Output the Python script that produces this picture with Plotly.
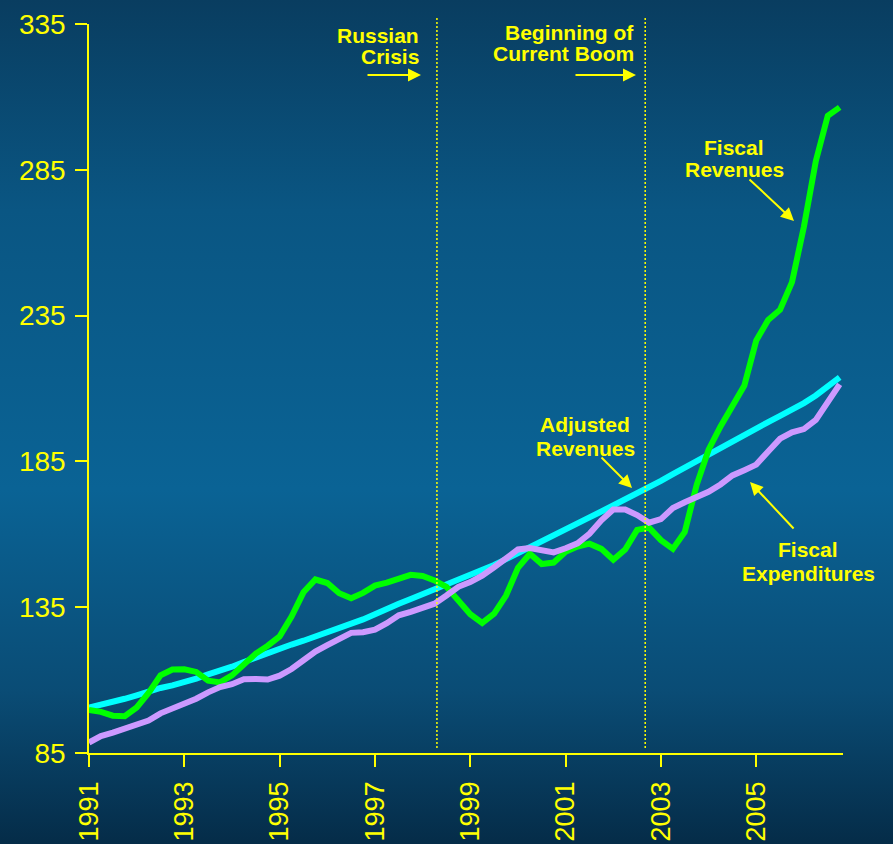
import base64
import plotly.graph_objects as go

# quarterly observations, 1991Q1 - 2006Q4
quarters = [1991 + q / 4 for q in range(64)]

adjusted_revenues = [
    100.6, 101.5, 102.8, 103.6,
    104.8, 106.2, 107.3, 108.2,
    109.2, 110.5, 112.0, 113.2,
    114.6, 116.2, 117.8, 119.4,
    121.0, 122.2, 123.5, 125.0,
    126.0, 127.5, 129.2, 130.8,
    132.6, 134.6, 136.2, 137.8,
    139.4, 141.0, 142.6, 144.2,
    145.8, 147.6, 149.5, 151.5,
    153.6, 155.8, 157.8, 159.8,
    161.8, 163.8, 165.8, 167.8,
    169.8, 171.8, 173.8, 176.0,
    178.3, 180.6, 182.9, 185.2,
    187.5, 189.7, 191.9, 194.1,
    196.3, 198.5, 200.6, 202.7,
    205.0, 207.6, 210.6, 213.8,
]

fiscal_revenues = [
    99.8, 99.1, 97.8, 97.6,
    100.6, 105.6, 111.6, 113.6,
    113.7, 112.8, 109.8, 109.2,
    111.6, 115.2, 119.1, 121.8,
    125.0, 131.8, 140.1, 144.5,
    143.3, 139.8, 138.1, 139.9,
    142.4, 143.4, 144.9, 146.1,
    145.7, 144.2, 142.0, 137.0,
    132.6, 129.6, 132.8, 139.0,
    148.5, 153.3, 149.8, 150.3,
    154.0, 155.8, 156.8, 155.0,
    151.3, 154.8, 161.5, 162.3,
    158.0, 155.0, 160.8, 177.0,
    189.0, 197.0, 204.5, 211.0,
    226.5, 233.5, 237.0, 246.5,
    265.5, 288.0, 303.5, 306.4,
]

fiscal_expenditures = [
    88.6, 90.8, 92.0, 93.2,
    94.6, 96.1, 98.6, 100.2,
    101.6, 103.6, 105.8, 107.6,
    108.6, 110.3, 110.4, 110.2,
    111.5, 113.8, 116.8, 119.8,
    122.0, 123.9, 126.2, 126.4,
    127.3, 129.5, 132.2, 133.4,
    134.6, 136.2, 139.0, 142.0,
    143.6, 145.8, 148.7, 152.0,
    154.8, 155.3, 154.5, 153.8,
    155.2, 156.9, 160.2, 164.8,
    168.5, 168.5, 166.6, 164.0,
    165.2, 169.0, 171.0, 172.7,
    174.6, 177.1, 180.2, 182.0,
    183.9, 188.4, 192.8, 195.0,
    196.1, 199.2, 205.0, 211.4,
]

event_years = [1998.3, 2002.67]
x_ticks = [1991, 1993, 1995, 1997, 1999, 2001, 2003, 2005]
y_ticks = [85, 135, 185, 235, 285, 335]

YELLOW = '#FFFF00'
FONT = 'Liberation Sans, Arial, sans-serif'

W, H = 893, 844
ML, MR, MT, MB = 89, 50, 24, 91
X_RANGE = [1991, 2006.82]
Y_RANGE = [85, 335]


# helpers to place the slide labels by pixel position
def px_x(px):
    return X_RANGE[0] + (px - ML) / (W - ML - MR) * (X_RANGE[1] - X_RANGE[0])


def px_y(py):
    return Y_RANGE[1] - (py - MT) / (H - MT - MB) * (Y_RANGE[1] - Y_RANGE[0])


# vertical blue gradient used as the slide background
svg = (
    '<svg xmlns="http://www.w3.org/2000/svg" width="10" height="100" preserveAspectRatio="none">'
    '<defs><linearGradient id="g" x1="0" y1="0" x2="0" y2="1">'
    '<stop offset="0" stop-color="#093d60"/>'
    '<stop offset="0.25" stop-color="#0a5683"/>'
    '<stop offset="0.58" stop-color="#0a6395"/>'
    '<stop offset="0.82" stop-color="#0a4c75"/>'
    '<stop offset="1" stop-color="#052c48"/>'
    '</linearGradient></defs>'
    '<rect width="10" height="100" fill="url(#g)"/></svg>'
)
bg_src = 'data:image/svg+xml;base64,' + base64.b64encode(svg.encode()).decode()

fig = go.Figure()

fig.add_trace(go.Scatter(x=quarters, y=adjusted_revenues, mode='lines',
                         line=dict(color='#00FFFF', width=6), name='Adjusted Revenues'))
fig.add_trace(go.Scatter(x=quarters, y=fiscal_revenues, mode='lines',
                         line=dict(color='#00FF00', width=6), name='Fiscal Revenues'))
fig.add_trace(go.Scatter(x=quarters, y=fiscal_expenditures, mode='lines',
                         line=dict(color='#CC99FF', width=6), name='Fiscal Expenditures'))

for yr in event_years:
    fig.add_shape(type='line', xref='x', yref='paper', x0=yr, x1=yr, y0=0.007, y1=1.009,
                  line=dict(color=YELLOW, width=1.5, dash='2px,2px'))

label_font = dict(family=FONT, size=21, color=YELLOW)

# one annotation per text line: (text, x px, y px of caps centre, anchor)
labels = [
    ('Russian', 421, 34, 'right'),
    ('Crisis', 421, 55, 'right'),
    ('Beginning of', 636, 31, 'right'),
    ('Current Boom', 636, 52, 'right'),
    ('Fiscal', 734, 146, 'center'),
    ('Revenues', 734, 168, 'center'),
    ('Adjusted', 585, 423, 'center'),
    ('Revenues', 585, 447, 'center'),
    ('Fiscal', 808, 548, 'center'),
    ('Expenditures', 808, 572, 'center'),
]
for txt, lx, ly, anchor in labels:
    fig.add_annotation(x=px_x(lx), y=px_y(ly + 1), text='<b>' + txt + '</b>', showarrow=False,
                       xanchor=anchor, yanchor='middle', font=label_font)

# arrows: head x px, head y px, tail offset
arrows = [
    (421, 75, -55, 0),
    (636, 75, -62, 0),
    (794, 221, -46, -43),
    (632, 488, -32, -32),
    (750, 482, 45, 48),
]
for hx, hy, ax, ay in arrows:
    fig.add_annotation(x=px_x(hx), y=px_y(hy), ax=ax, ay=ay, text='', showarrow=True,
                       arrowhead=2, arrowsize=1.3, arrowwidth=2, arrowcolor=YELLOW)

fig.add_layout_image(dict(source=bg_src, xref='paper', yref='paper',
                          x=-ML / (W - ML - MR), y=1 + MT / (H - MT - MB),
                          sizex=W / (W - ML - MR), sizey=H / (H - MT - MB),
                          sizing='stretch', xanchor='left', yanchor='top', layer='below'))

axis_common = dict(showgrid=False, zeroline=False, showline=True, linecolor=YELLOW, linewidth=1.5,
                   ticks='outside', ticklen=12, tickwidth=1.5, tickcolor=YELLOW, automargin=False)

fig.update_xaxes(range=X_RANGE, tickvals=x_ticks, tickangle=-90, ticklabelstandoff=4,
                 tickfont=dict(family=FONT, size=27, color=YELLOW), **axis_common)
fig.update_yaxes(range=Y_RANGE, tickvals=y_ticks, ticklabelstandoff=4,
                 tickfont=dict(family=FONT, size=28, color=YELLOW), **axis_common)

fig.update_layout(
    width=W, height=H,
    margin=dict(l=ML, r=MR, t=MT, b=MB),
    paper_bgcolor='#0a5683',
    plot_bgcolor='rgba(0,0,0,0)',
    showlegend=False,
)

fig.write_html('out.html', config={'displayModeBar': False},
               post_script="document.body.style.margin='0';")
